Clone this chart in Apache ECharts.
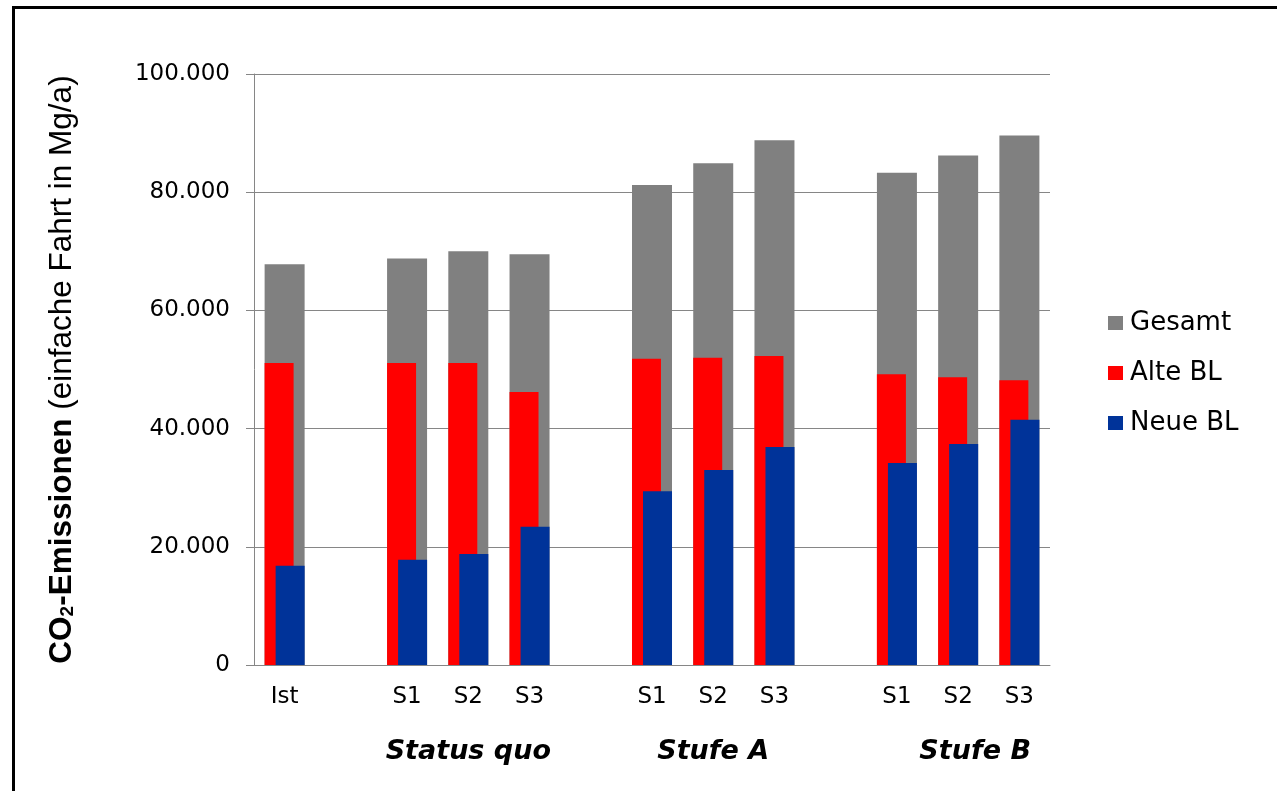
<!DOCTYPE html>
<html>
<head>
<meta charset="utf-8">
<script src="https://cdn.jsdelivr.net/npm/echarts@6/dist/echarts.min.js"></script>
<style>
  html, body { margin: 0; padding: 0; background: #ffffff; }
  #chart { width: 1277px; height: 791px; }
</style>
</head>
<body>
<div id="chart"></div>
<script>
// Scenario slots along the x axis (blank slots separate the groups)
const categories = ['Ist', '', 'S1', 'S2', 'S3', '', 'S1', 'S2', 'S3', '', 'S1', 'S2', 'S3'];
// Group captions, placed under the middle scenario of each group
const groupLabels = ['', '', '', 'Status quo', '', '', '', 'Stufe A', '', '', '', 'Stufe B', ''];

// CO2 emissions in Mg/a (one-way trip)
const gesamt = [67800, null, 68800, 70000, 69500, null, 81200, 84900, 88800, null, 83300, 86200, 89600];
const alteBL = [51100, null, 51100, 51100, 46200, null, 51800, 52000, 52300, null, 49200, 48700, 48200];
const neueBL = [16800, null, 17800, 18800, 23400, null, 29400, 33000, 36900, null, 34200, 37400, 41500];

const yTicks = { min: 0, max: 100000, interval: 20000 };

const AXIS_GREY = '#868686';
const LABEL_FONT = 'DejaVu Sans';

function thousands(v) {
  return String(v).replace(/\B(?=(\d{3})+(?!\d))/g, '.');
}

const chart = echarts.init(document.getElementById('chart'), null, { renderer: 'canvas' });

chart.setOption({
  animation: false,
  backgroundColor: '#ffffff',
  grid: { left: 254, right: 227, top: 74, bottom: 126, containLabel: false },
  graphic: [{
    type: 'rect',
    shape: { x: 13.5, y: 7.5, width: 1300, height: 820 },
    style: { fill: 'none', stroke: '#000000', lineWidth: 3 },
    silent: true
  }],
  legend: {
    orient: 'vertical',
    left: 1108,
    top: 309,
    padding: 0,
    icon: 'rect',
    itemWidth: 15,
    itemHeight: 14,
    itemGap: 22,
    data: ['Gesamt', 'Alte BL', 'Neue BL'],
    textStyle: { fontFamily: LABEL_FONT, fontSize: 26, lineHeight: 28, color: '#000000', padding: [0, 0, 0, 2] }
  },
  xAxis: [
    {
      type: 'category',
      data: categories,
      gridIndex: 0,
      axisLine: { lineStyle: { color: AXIS_GREY, width: 1 } },
      axisTick: { show: false },
      axisLabel: { interval: 0, fontFamily: LABEL_FONT, fontSize: 23, color: '#000000', margin: 21 }
    },
    {
      type: 'category',
      data: categories,
      gridIndex: 0,
      show: false
    },
    {
      type: 'category',
      data: groupLabels,
      gridIndex: 0,
      position: 'bottom',
      axisLine: { show: false },
      axisTick: { show: false },
      axisLabel: {
        interval: 0,
        margin: 73,
        fontFamily: LABEL_FONT,
        fontSize: 27,
        fontStyle: 'italic',
        fontWeight: 'bold',
        color: '#000000',
        formatter: function (v) { return v === 'Stufe B' ? '{b|' + v + '}' : v; },
        rich: {
          b: { fontFamily: LABEL_FONT, fontSize: 27, fontStyle: 'italic', fontWeight: 'bold', color: '#000000', padding: [0, 0, 0, 34] }
        }
      }
    }
  ],
  yAxis: {
    type: 'value',
    min: yTicks.min,
    max: yTicks.max,
    interval: yTicks.interval,
    axisLine: { show: true, lineStyle: { color: AXIS_GREY, width: 1 } },
    axisTick: { show: true, length: 8, lineStyle: { color: AXIS_GREY } },
    splitLine: { show: true, lineStyle: { color: AXIS_GREY, width: 1 } },
    axisLabel: { fontFamily: LABEL_FONT, fontSize: 23, color: '#000000', margin: 24, formatter: thousands },
    name: '{b|CO}{s|2}{b|-Emissionen}{r| (einfache Fahrt in Mg/a)}',
    nameLocation: 'middle',
    nameGap: 174,
    nameTextStyle: {
      rich: {
        b: { fontFamily: 'Liberation Sans', fontSize: 31.5, fontWeight: 'bold', color: '#000000', lineHeight: 36 },
        s: { fontFamily: 'Liberation Sans', fontSize: 19, fontWeight: 'bold', color: '#000000', lineHeight: 36, padding: [12, 0, 0, 0] },
        r: { fontFamily: 'Liberation Sans', fontSize: 31.5, color: '#000000', lineHeight: 36 }
      }
    }
  },
  series: [
    {
      name: 'Gesamt',
      type: 'bar',
      xAxisIndex: 0,
      data: gesamt,
      barWidth: 40,
      itemStyle: { color: '#808080' }
    },
    {
      name: 'Alte BL',
      type: 'bar',
      xAxisIndex: 1,
      data: alteBL,
      barWidth: 29,
      barGap: '-62%',
      itemStyle: { color: '#ff0000' }
    },
    {
      name: 'Neue BL',
      type: 'bar',
      xAxisIndex: 1,
      data: neueBL,
      barWidth: 29,
      itemStyle: { color: '#003399' }
    }
  ]
});
</script>
</body>
</html>
